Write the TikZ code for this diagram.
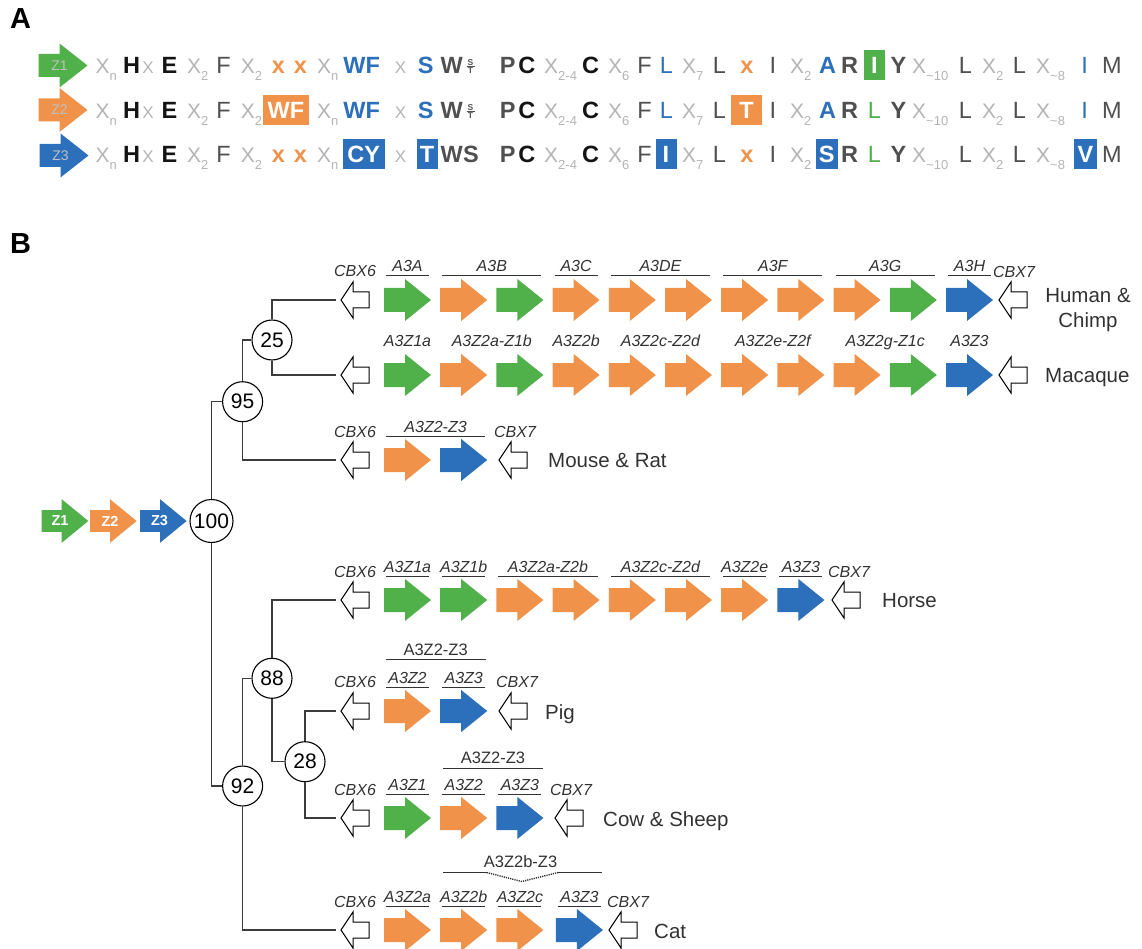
\documentclass[tikz,border=0pt]{standalone}
\usepackage{fontspec}
\setmainfont{Liberation Sans}
\usetikzlibrary{calc}
\definecolor{zgreen}{RGB}{80,176,74}
\definecolor{zorange}{RGB}{240,146,74}
\definecolor{zblue}{RGB}{44,111,187}
\definecolor{xgray}{RGB}{180,180,180}
\definecolor{zlab}{RGB}{192,192,192}
\definecolor{dgray}{RGB}{80,80,80}
\definecolor{tblack}{RGB}{20,20,20}
\definecolor{lgray}{RGB}{50,50,50}
\definecolor{treegray}{RGB}{60,60,60}
% generic block arrow: name, x(left), y(centre), colour, length, body length, half head, half body
\newcommand\zarr[8]{%
  \coordinate (#1) at ({#2},{#3});
  \fill[#4] (#1) ++(0,-#8) -- ++(#6,0) -- ++(0,{#8-#7}) -- ++({#5-#6},#7)
     -- ++({#6-#5},#7) -- ++(0,{#8-#7}) -- ++(-#6,0) -- cycle;}
% gene arrow in panel B: name, index, y, colour
\newcommand\ga[4]{\zarr{#1}{384+56.2*#2}{#3}{#4}{47}{21}{21}{12}}
% open (CBX) arrow pointing left: name, x of tip, y
\newcommand\oa[3]{%
  \coordinate (#1) at (#2,#3);
  \filldraw[fill=white,draw=black,line width=1pt,line join=miter]
    (#1) -- ++(12,-18) -- ++(0,10) -- ++(16,0) -- ++(0,16) -- ++(-16,0) -- ++(0,10) -- cycle;}
% underlined gene label: name, first index, last index, row y, text
\newcommand\ulab[5]{%
  \draw[uline] ({384+56.2*#2+2},{#4-24}) -- ({384+56.2*#3+45},{#4-24});
  \node[glab] (#1) at ({384+56.2*(#2+#3)/2+23.5},{#4-28}) {#5};}
% plain gene label (no line)
\newcommand\mlab[5]{%
  \node[glab] (#1) at ({384+56.2*(#2+#3)/2+23.5},{#4-29}) {#5};}
\newcommand\Xs[1]{X\raisebox{-7pt}{\fontsize{13}{13}\selectfont #1}}
\tikzset{
  aa/.style={inner sep=0,anchor=base},
  kb/.style={aa,text=tblack,font=\fontsize{23.5}{24}\selectfont\bfseries},
  db/.style={aa,text=dgray,font=\fontsize{23.5}{24}\selectfont\bfseries},
  dr/.style={aa,text=dgray,font=\fontsize{23.5}{24}\selectfont},
  bb/.style={aa,text=zblue,font=\fontsize{23.5}{24}\selectfont\bfseries},
  br/.style={aa,text=zblue,font=\fontsize{23.5}{24}\selectfont},
  ob/.style={aa,text=zorange,font=\fontsize{23.5}{24}\selectfont\bfseries},
  gr/.style={aa,text=zgreen,font=\fontsize{23.5}{24}\selectfont},
  xg/.style={inner sep=0,anchor=base west,text=xgray,font=\fontsize{21}{21}\selectfont},
  xs/.style={aa,text=xgray,font=\fontsize{17}{17}\selectfont},
  bx/.style={inner sep=0,minimum height=30pt,text=white,font=\fontsize{23.5}{24}\selectfont\bfseries,anchor=center},
  st/.style={aa,text=dgray,font=\fontsize{8.5}{8.5}\selectfont\bfseries},
  zl/.style={inner sep=0,text=zlab,font=\fontsize{14}{14}\selectfont},
  zw/.style={inner sep=0,text=white,font=\fontsize{14.5}{14.5}\selectfont\bfseries},
  glab/.style={inner sep=0,anchor=base,text=lgray,font=\fontsize{16}{16}\selectfont\itshape},
  ulabel/.style={inner sep=0,anchor=base,text=lgray,font=\fontsize{16.5}{16.5}\selectfont},
  uline/.style={draw=lgray,line width=1pt},
  species/.style={inner sep=0,anchor=base west,text=lgray,font=\fontsize{20.5}{25}\selectfont},
  bs/.style={circle,draw=black,line width=1.1pt,fill=white,minimum size=40pt,inner sep=0,font=\fontsize{21}{21}\selectfont},
  edge/.style={draw=treegray,line width=1.3pt},
  panel/.style={inner sep=0,anchor=base west,font=\fontsize{29}{29}\selectfont\bfseries},
}
% common residues of one motif row: prefix, baseline
\newcommand\arow[2]{%
 \node[xg] (#1xa) at (95.5,#2) {\Xs{n}};
 \node[kb] (#1h) at (131.5,#2) {H};
 \node[xs] (#1xb) at (148,#2) {X};
 \node[kb] (#1e) at (169.5,#2) {E};
 \node[xg] (#1xc) at (187,#2) {\Xs{2}};
 \node[dr] (#1f) at (223.5,#2) {F};
 \node[xg] (#1xd) at (240.7,#2) {\Xs{2}};
 \node[xg] (#1xe) at (317,#2) {\Xs{n}};
 \node[xs] (#1xf) at (400.5,#2) {X};
 \node[db] (#1w) at (451.8,#2) {W};
 \node[db] (#1p) at (507.8,#2) {P};
 \node[kb] (#1c) at (526.8,#2) {C};
 \node[xg] (#1xg) at (544,#2) {\Xs{2-4}};
 \node[kb] (#1cc) at (590.5,#2) {C};
 \node[xg] (#1xh) at (608,#2) {\Xs{6}};
 \node[dr] (#1ff) at (644.5,#2) {F};
 \node[xg] (#1xi) at (682,#2) {\Xs{7}};
 \node[dr] (#1l) at (719.5,#2) {L};
 \node[dr] (#1i) at (773,#2) {I};
 \node[xg] (#1xj) at (790,#2) {\Xs{2}};
 \node[db] (#1r) at (849.5,#2) {R};
 \node[db] (#1y) at (898.5,#2) {Y};
 \node[xg] (#1xk) at (912,#2) {\Xs{\textasciitilde10}};
 \node[dr] (#1ll) at (965.5,#2) {L};
 \node[xg] (#1xl) at (982,#2) {\Xs{2}};
 \node[dr] (#1lll) at (1019.5,#2) {L};
 \node[xg] (#1xm) at (1036,#2) {\Xs{\textasciitilde8}};
 \node[dr] (#1m) at (1112,#2) {M};
}
\newcommand\stk[2]{% S over T: prefix, baseline
 \node[st] (#1sts) at (470.5,{#2-8.3}) {S};
 \draw[draw=dgray,line width=0.6pt] (466.5,{#2-7.2}) -- (474.5,{#2-7.2});
 \node[st] (#1stt) at (470.5,#2) {T};}
\begin{document}
\begin{tikzpicture}[x=1pt,y=-1pt]
\useasboundingbox (0,0) rectangle (1142,949);
% ---------------- panel A
\node[panel] (labA) at (10,28.5) {A};
\zarr{za1}{38.5}{65.5}{zgreen}{49}{21}{22}{11.5}
\zarr{za2}{38.5}{110}{zorange}{49}{21}{22}{11.5}
\zarr{za3}{39.5}{155.5}{zblue}{49}{21}{22}{11.5}
\node[zl] (za1t) at (59.5,65.5) {Z1};
\node[zl] (za2t) at (59.5,110) {Z2};
\node[zl] (za3t) at (60.5,155.5) {Z3};
% row 1
\arow{a}{74}
\node[ob] (ax1) at (278.5,74) {x};
\node[ob] (ax2) at (300.5,74) {x};
\node[bb] (awf) at (361.6,74) {WF};
\node[bb] (as) at (425.7,74) {S};
\stk{a}{74}
\node[br] (al) at (666.5,74) {L};
\node[ob] (ax3) at (747,74) {x};
\node[bb] (aA) at (827.5,74) {A};
\node[bx,fill=zgreen,minimum width=21pt] (aI) at (874.5,65.5) {I};
\node[br] (aI2) at (1084.5,74) {I};
% row 2
\arow{b}{118.5}
\node[bx,fill=zorange,minimum width=46pt] (bwfo) at (286,110) {WF};
\node[bb] (bwf) at (361.6,118.5) {WF};
\node[bb] (bs) at (425.7,118.5) {S};
\stk{b}{118.5}
\node[br] (bl) at (666.5,118.5) {L};
\node[bx,fill=zorange,minimum width=31pt] (bT) at (746.5,110) {T};
\node[bb] (bA) at (827.5,118.5) {A};
\node[gr] (bL) at (874.5,118.5) {L};
\node[br] (bI2) at (1084.5,118.5) {I};
% row 3
\arow{c}{163}
\node[ob] (cx1) at (278.5,163) {x};
\node[ob] (cx2) at (300.5,163) {x};
\node[bx,fill=zblue,minimum width=42.4pt] (ccy) at (363.8,154.5) {CY};
\node[bx,fill=zblue,minimum width=21pt] (cT) at (427,154.5) {T};
\node[db] (cs) at (471,163) {S};
\node[bx,fill=zblue,minimum width=21pt] (cI) at (666,154.5) {I};
\node[ob] (cx3) at (747,163) {x};
\node[bx,fill=zblue,minimum width=22.5pt] (cS) at (826.8,154.5) {S};
\node[gr] (cL) at (874.5,163) {L};
\node[bx,fill=zblue,minimum width=23pt] (cV) at (1085.5,154.5) {V};
% ---------------- panel B
\node[panel] (labB) at (10,254) {B};
% tree nodes
\node[bs] (n25) at (272,340) {25};
\node[bs] (n95) at (242.6,401.7) {95};
\node[bs,minimum size=43pt] (n100) at (211.5,521) {100};
\node[bs] (n88) at (272,678.3) {88};
\node[bs] (n28) at (305,761.7) {28};
\node[bs] (n92) at (242.6,786) {92};
% root arrows
\zarr{r1}{41.7}{521}{zgreen}{46.6}{20}{21.8}{10.8}
\zarr{r2}{90}{521}{zorange}{46.6}{20}{21.8}{10.8}
\zarr{r3}{140}{521}{zblue}{46.6}{20}{21.8}{10.8}
\node[zw] (r1t) at (60,521) {Z1};
\node[zw] (r2t) at (110,521) {Z2};
\node[zw] (r3t) at (159.5,521) {Z3};
% Human & Chimp
\ga{h0}{0}{300}{zgreen}\ga{h1}{1}{300}{zorange}\ga{h2}{2}{300}{zgreen}
\ga{h3}{3}{300}{zorange}\ga{h4}{4}{300}{zorange}\ga{h5}{5}{300}{zorange}
\ga{h6}{6}{300}{zorange}\ga{h7}{7}{300}{zorange}\ga{h8}{8}{300}{zorange}
\ga{h9}{9}{300}{zgreen}\ga{h10}{10}{300}{zblue}
\oa{hc6}{341}{300}\oa{hc7}{999}{300}
\node[glab] (hc6t) at (355,277) {CBX6};
\node[glab] (hc7t) at (1014,278) {CBX7};
\ulab{hl0}{0}{0}{300}{A3A}\ulab{hl1}{1}{2}{300}{A3B}\ulab{hl2}{3}{3}{300}{A3C}
\ulab{hl3}{4}{5}{300}{A3DE}\ulab{hl4}{6}{7}{300}{A3F}\ulab{hl5}{8}{9}{300}{A3G}
\ulab{hl6}{10}{10}{300}{A3H}
\node[species,anchor=center,align=center] (sp1) at (1088,310) {Human \&\\Chimp};
% Macaque
\ga{q0}{0}{375}{zgreen}\ga{q1}{1}{375}{zorange}\ga{q2}{2}{375}{zgreen}
\ga{q3}{3}{375}{zorange}\ga{q4}{4}{375}{zorange}\ga{q5}{5}{375}{zorange}
\ga{q6}{6}{375}{zorange}\ga{q7}{7}{375}{zorange}\ga{q8}{8}{375}{zorange}
\ga{q9}{9}{375}{zgreen}\ga{q10}{10}{375}{zblue}
\oa{qc6}{341}{375}\oa{qc7}{999}{375}
\mlab{ql0}{0}{0}{375}{A3Z1a}\mlab{ql1}{1}{2}{375}{A3Z2a-Z1b}\mlab{ql2}{3}{3}{375}{A3Z2b}
\mlab{ql3}{4}{5}{375}{A3Z2c-Z2d}\mlab{ql4}{6}{7}{375}{A3Z2e-Z2f}\mlab{ql5}{8}{9}{375}{A3Z2g-Z1c}
\mlab{ql6}{10}{10}{375}{A3Z3}
\node[species] (sp2) at (1045,382.5) {Macaque};
% Mouse & Rat
\ga{m0}{0}{460}{zorange}\ga{m1}{1}{460}{zblue}
\oa{mc6}{341}{460}\oa{mc7}{499}{460}
\node[glab] (mc6t) at (355,437) {CBX6};
\node[glab] (mc7t) at (515,437) {CBX7};
\ulab{ml0}{0}{1}{460}{A3Z2-Z3}
\node[species] (sp3) at (548,467.5) {Mouse \& Rat};
% Horse
\ga{e0}{0}{600}{zgreen}\ga{e1}{1}{600}{zgreen}\ga{e2}{2}{600}{zorange}
\ga{e3}{3}{600}{zorange}\ga{e4}{4}{600}{zorange}\ga{e5}{5}{600}{zorange}
\ga{e6}{6}{600}{zorange}\ga{e7}{7}{600}{zblue}
\oa{ec6}{341}{600}\oa{ec7}{832}{600}
\node[glab] (ec6t) at (355,577) {CBX6};
\node[glab] (ec7t) at (849,577) {CBX7};
\ulab{el0}{0}{0}{600}{A3Z1a}\ulab{el1}{1}{1}{600}{A3Z1b}\ulab{el2}{2}{3}{600}{A3Z2a-Z2b}
\ulab{el3}{4}{5}{600}{A3Z2c-Z2d}\ulab{el4}{6}{6}{600}{A3Z2e}\ulab{el5}{7}{7}{600}{A3Z3}
\node[species] (sp4) at (882,607.5) {Horse};
% Pig
\ga{p0}{0}{711}{zorange}\ga{p1}{1}{711}{zblue}
\oa{pc6}{341}{711}\oa{pc7}{499}{711}
\node[glab] (pc6t) at (355,687) {CBX6};
\node[glab] (pc7t) at (517,687) {CBX7};
\ulab{pl0}{0}{0}{711}{A3Z2}\ulab{pl1}{1}{1}{711}{A3Z3}
\draw[uline] (386,659) -- (485.5,659);
\node[ulabel] (pl2) at (435.6,655) {A3Z2-Z3};
\node[species] (sp5) at (545,719) {Pig};
% Cow & Sheep
\ga{w0}{0}{818}{zgreen}\ga{w1}{1}{818}{zorange}\ga{w2}{2}{818}{zblue}
\oa{wc6}{341}{818}\oa{wc7}{555}{818}
\node[glab] (wc6t) at (355,795) {CBX6};
\node[glab] (wc7t) at (571,795) {CBX7};
\ulab{wl0}{0}{0}{818}{A3Z1}\ulab{wl1}{1}{1}{818}{A3Z2}\ulab{wl2}{2}{2}{818}{A3Z3}
\draw[uline] (442.5,768) -- (543,768);
\node[ulabel] (wl3) at (493,763) {A3Z2-Z3};
\node[species] (sp6) at (603,826) {Cow \& Sheep};
% Cat
\ga{t0}{0}{930}{zorange}\ga{t1}{1}{930}{zorange}\ga{t2}{2}{930}{zorange}\ga{t3}{3.06}{930}{zblue}
\oa{tc6}{341}{930}\oa{tc7}{609}{930}
\node[glab] (tc6t) at (355,907) {CBX6};
\node[glab] (tc7t) at (628,907) {CBX7};
\ulab{tl0}{0}{0}{930}{A3Z2a}\ulab{tl1}{1}{1}{930}{A3Z2b}\ulab{tl2}{2}{2}{930}{A3Z2c}
\ulab{tl3}{3.06}{3.06}{930}{A3Z3}
\draw[uline] (443.3,872.5) -- (486.7,872.5);
\draw[draw=lgray,line width=1.4pt,dash pattern=on 1.2pt off 1pt] (486.7,872.5) -- (521.7,881.5) -- (558.3,872.5);
\draw[uline] (558.3,872.5) -- (601.7,872.5);
\node[ulabel] (tl4) at (520.5,867) {A3Z2b-Z3};
\node[species] (sp7) at (654,938) {Cat};
% tree edges
\draw[edge] (n100.north) |- (n95.west);
\draw[edge] (n100.south) |- (n92.west);
\draw[edge] (n95.north) |- (n25.west);
\draw[edge,shorten >=5pt] (n25.north) |- (hc6);
\draw[edge,shorten >=5pt] (n25.south) |- (qc6);
\draw[edge,shorten >=5pt] (n95.south) |- (mc6);
\draw[edge] (n92.north) |- (n88.west);
\draw[edge,shorten >=5pt] (n88.north) |- (ec6);
\draw[edge] (n88.south) |- (n28.west);
\draw[edge,shorten >=5pt] (n28.north) |- (pc6);
\draw[edge,shorten >=5pt] (n28.south) |- (wc6);
\draw[edge,shorten >=5pt] (n92.south) |- (tc6);
\end{tikzpicture}
\end{document}
